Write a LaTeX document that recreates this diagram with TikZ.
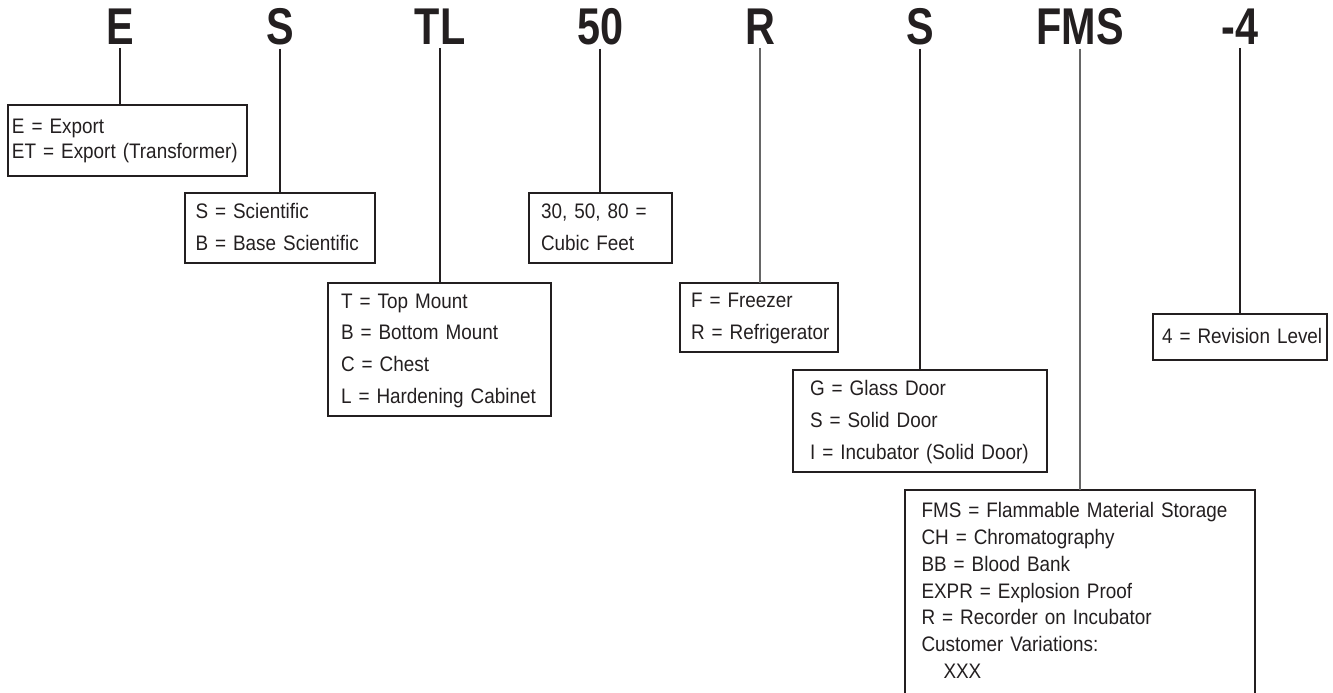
\documentclass[tikz,border=0pt]{standalone}
\usepackage{fontspec}
\newfontfamily\codefont[FakeStretch=0.8]{Liberation Sans}
\newfontfamily\keyfont[FakeStretch=0.9]{Liberation Sans}
\definecolor{ink}{HTML}{231F20}
\newcommand{\keylines}[1]{\begin{tabular}{@{}l@{}}#1\end{tabular}}
\begin{document}
\begin{tikzpicture}[x=1pt, y=-1pt, line join=miter, color=ink,
	code/.style={font=\codefont\bfseries\fontsize{51.7}{52}\selectfont, inner sep=0pt, outer sep=3pt, anchor=base},
	keybox/.style={draw, line width=2.8pt, outer sep=0pt, anchor=north west, align=left,
		inner ysep=0pt, font=\keyfont\fontsize{21}{#1}\selectfont},
	keybox/.default=31.7,
	link/.style={line width=2.2pt},
	thinlink/.style={line width=1.6pt, black!60}]
	%% Khung
	\useasboundingbox (0,0) rectangle (1333,693);
	%% Các ký tự của mã
	\foreach \t/\n [count=\i from 0] in {E/E, S/S, TL/TL, 50/50, R/R, S/Sd, FMS/FMS, -4/Rev}
		\node [code] (c\n) at (120+160*\i, 45) {\t};
	%% Các hộp chú thích
	\node [keybox=25, minimum width=239, minimum height=71, inner xsep=4, text width=231] (kE) at (8,105)
		{\keylines{E = Export\\ET = Export (Transformer)}};
	\node [keybox, minimum width=190, minimum height=70, inner xsep=10.5, text width=169] (kS) at (185,193)
		{\keylines{S = Scientific\\B = Base Scientific}};
	\node [keybox, minimum width=223, minimum height=133, inner xsep=13, text width=197] (kTL) at (328,283)
		{\keylines{T = Top Mount\\B = Bottom Mount\\C = Chest\\L = Hardening Cabinet}};
	\node [keybox, minimum width=143, minimum height=70, inner xsep=12, text width=119] (k50) at (529,193)
		{\keylines{30, 50, 80 =\\Cubic Feet}};
	\node [keybox, minimum width=158, minimum height=69, inner xsep=11, text width=136] (kR) at (680,283)
		{\keylines{F = Freezer\\R = Refrigerator}};
	\node [keybox, minimum width=254, minimum height=102, inner xsep=17, text width=220] (kSd) at (793,370)
		{\keylines{G = Glass Door\\S = Solid Door\\I = Incubator (Solid Door)}};
	\node [keybox, minimum width=174, minimum height=46, inner xsep=9, text width=156] (kRev) at (1153,314)
		{\keylines{4 = Revision Level}};
	\node [keybox=26.7, inner ysep=9.3, inner xsep=16.5, text width=317] (kFMS) at (905,490)
		{\keylines{FMS = Flammable Material Storage\\CH = Chromatography\\BB = Blood Bank\\EXPR = Explosion Proof\\
		R = Recorder on Incubator\\Customer Variations:\\\hspace*{22pt}XXX\rule[-30pt]{0pt}{0pt}}};
	%% Các đường nối
	\draw [link] (cE) -- (cE |- kE.north);
	\draw [link] (cS) -- (cS |- kS.north);
	\draw [link] (cTL) -- (cTL |- kTL.north);
	\draw [link] (c50) -- (c50 |- k50.north);
	\draw [thinlink] (cR) -- (cR |- kR.north);
	\draw [link] (cSd) -- (cSd |- kSd.north);
	\draw [thinlink] (cFMS) -- (cFMS |- kFMS.north);
	\draw [link] (cRev) -- (cRev |- kRev.north);
\end{tikzpicture}
\end{document}
